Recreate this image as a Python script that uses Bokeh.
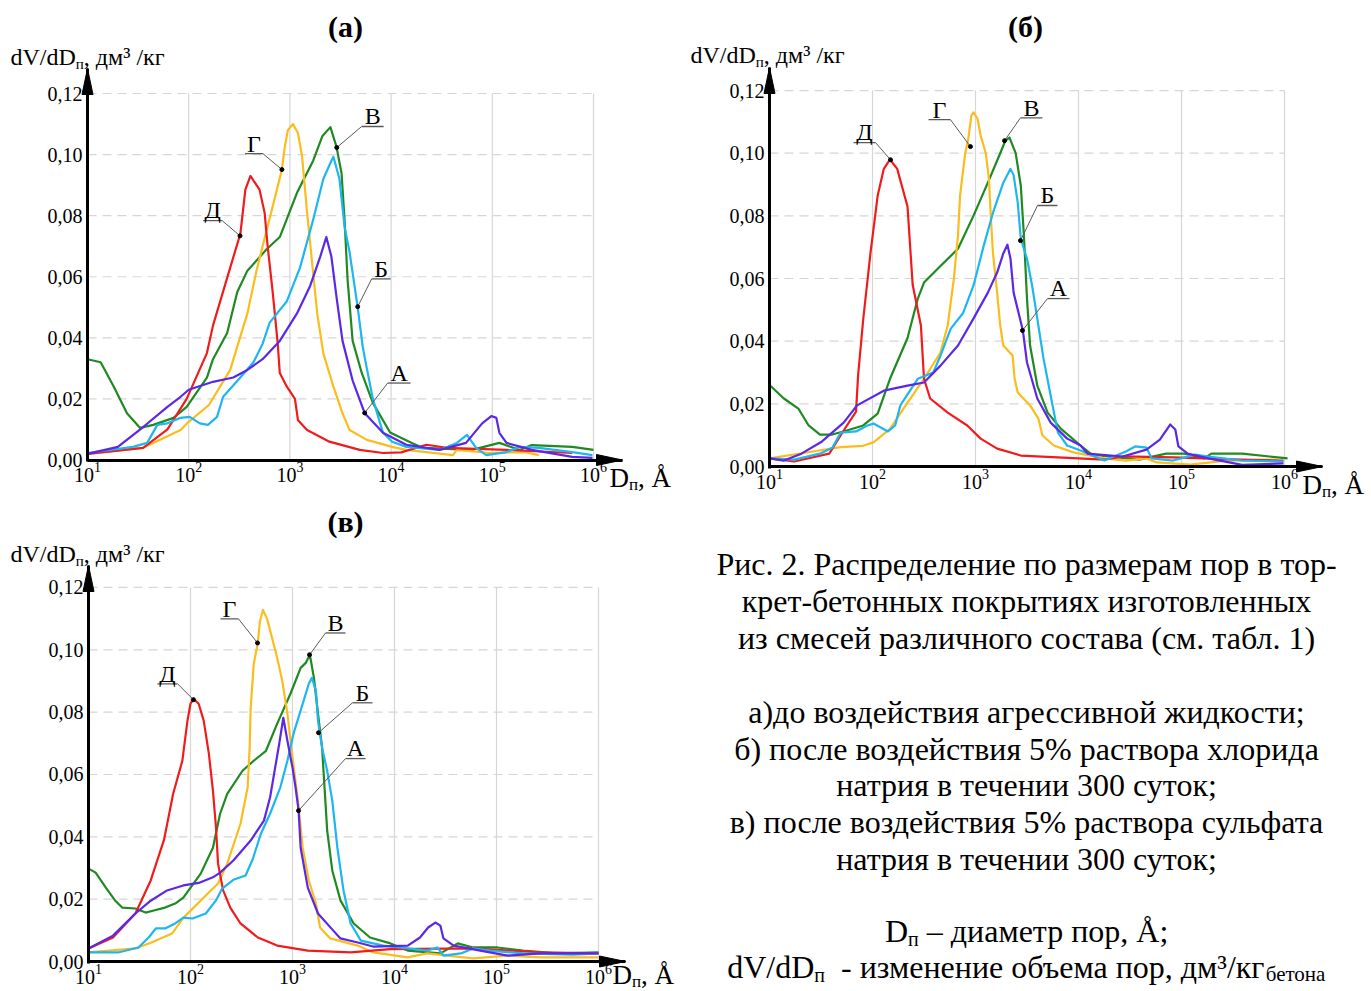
import numpy as np
from bokeh.plotting import figure
from bokeh.models import Range1d, FixedTicker, CustomJSTickFormatter, LogTickFormatter, Label
from bokeh.layouts import row, column
from bokeh.core.properties import value
from bokeh.embed import file_html
from bokeh.resources import INLINE

SERIF = "Liberation Serif"
NB = "\u00a0"

X_TICKS = [1e1, 1e2, 1e3, 1e4, 1e5, 1e6]
Y_TICKS = [0.0, 0.02, 0.04, 0.06, 0.08, 0.10, 0.12]
COLORS = {"А": "#5a28e6", "Б": "#1eb6f0", "В": "#1f8a22", "Г": "#fbbd1e", "Д": "#f01c1c"}

# ---------------- panel (а) ----------------
a_logD_A = [1.0, 1.30, 1.55, 1.79, 1.92, 2.0, 2.24, 2.44, 2.58, 2.73, 2.90, 3.07, 3.20, 3.30, 3.36, 3.41, 3.46, 3.52, 3.62, 3.74, 3.92, 4.15, 4.48, 4.74, 4.90, 4.99, 5.04, 5.07, 5.14, 5.39, 5.79, 5.99]
a_dv_A = [0.002, 0.0043, 0.0108, 0.0174, 0.0207, 0.023, 0.0256, 0.027, 0.0295, 0.033, 0.039, 0.048, 0.057, 0.0666, 0.073, 0.0666, 0.0535, 0.039, 0.026, 0.0153, 0.0089, 0.005, 0.0033, 0.0056, 0.012, 0.0144, 0.0138, 0.0089, 0.0056, 0.0033, 0.001, 0.0007]
a_logD_B = [1.0, 1.45, 1.59, 1.69, 1.79, 1.92, 2.01, 2.11, 2.19, 2.28, 2.34, 2.51, 2.64, 2.73, 2.80, 2.97, 3.10, 3.23, 3.33, 3.41, 3.43, 3.49, 3.54, 3.59, 3.67, 3.72, 3.76, 3.82, 3.92, 4.01, 4.15, 4.48, 4.65, 4.75, 4.84, 4.94, 5.14, 5.27, 5.46, 5.79, 5.99]
a_dv_B = [0.0023, 0.0043, 0.0056, 0.0115, 0.012, 0.0138, 0.0141, 0.012, 0.0115, 0.0141, 0.0207, 0.027, 0.032, 0.038, 0.045, 0.052, 0.063, 0.0787, 0.092, 0.098, 0.0993, 0.092, 0.0764, 0.068, 0.050, 0.037, 0.030, 0.020, 0.0089, 0.006, 0.0043, 0.0033, 0.0056, 0.0082, 0.004, 0.0016, 0.0026, 0.0043, 0.004, 0.0026, 0.0016]
a_logD_V = [1.0, 1.13, 1.26, 1.39, 1.52, 1.65, 1.85, 1.98, 2.18, 2.24, 2.38, 2.48, 2.58, 2.77, 2.90, 3.07, 3.23, 3.32, 3.40, 3.46, 3.51, 3.54, 3.57, 3.62, 3.71, 3.82, 3.99, 4.21, 4.31, 4.80, 5.07, 5.27, 5.39, 5.79, 6.0]
a_dv_V = [0.033, 0.032, 0.024, 0.0153, 0.0105, 0.0115, 0.0138, 0.0174, 0.027, 0.033, 0.0416, 0.055, 0.062, 0.069, 0.073, 0.0875, 0.098, 0.106, 0.109, 0.1026, 0.094, 0.0787, 0.059, 0.039, 0.0285, 0.0187, 0.009, 0.0055, 0.004, 0.0033, 0.0056, 0.0033, 0.0049, 0.0043, 0.0033]
a_logD_G = [1.0, 1.55, 1.92, 2.0, 2.2, 2.41, 2.58, 2.67, 2.73, 2.83, 2.92, 2.95, 2.98, 3.03, 3.08, 3.12, 3.17, 3.22, 3.27, 3.33, 3.43, 3.52, 3.59, 3.76, 4.01, 4.15, 4.61, 4.65, 4.97, 5.33, 5.46]
a_dv_G = [0.002, 0.004, 0.0098, 0.0125, 0.018, 0.0295, 0.048, 0.062, 0.070, 0.083, 0.095, 0.1026, 0.108, 0.110, 0.107, 0.0995, 0.081, 0.0645, 0.048, 0.035, 0.024, 0.0153, 0.0098, 0.0066, 0.0043, 0.0033, 0.0016, 0.0033, 0.0023, 0.0026, 0.0016]
a_logD_D = [1.0, 1.55, 1.79, 1.98, 2.18, 2.24, 2.41, 2.51, 2.56, 2.61, 2.70, 2.75, 2.78, 2.83, 2.88, 2.90, 2.97, 3.05, 3.08, 3.17, 3.39, 3.69, 3.92, 4.10, 4.35, 4.55, 5.14, 5.79]
a_dv_D = [0.002, 0.004, 0.010, 0.020, 0.035, 0.044, 0.063, 0.074, 0.0885, 0.093, 0.0885, 0.081, 0.070, 0.055, 0.038, 0.0285, 0.024, 0.020, 0.013, 0.0098, 0.006, 0.0033, 0.0023, 0.0025, 0.005, 0.004, 0.0033, 0.0023]

# ---------------- panel (б) ----------------
b_logD_A = [1.0, 1.14, 1.31, 1.51, 1.72, 1.85, 2.11, 2.34, 2.50, 2.66, 2.83, 2.98, 3.12, 3.21, 3.27, 3.31, 3.34, 3.37, 3.46, 3.50, 3.60, 3.73, 3.89, 4.02, 4.09, 4.43, 4.66, 4.79, 4.89, 4.94, 4.97, 5.06, 5.26, 5.59, 5.99]
b_dv_A = [0.0026, 0.0019, 0.0041, 0.008, 0.014, 0.0195, 0.0242, 0.0258, 0.0268, 0.0322, 0.0386, 0.0472, 0.0555, 0.0619, 0.068, 0.0708, 0.0663, 0.0555, 0.0434, 0.0332, 0.0217, 0.014, 0.0089, 0.0067, 0.0041, 0.0032, 0.0054, 0.0086, 0.0134, 0.0118, 0.0064, 0.0041, 0.0026, 0.0005, 0.001]
b_logD_B = [1.0, 1.24, 1.49, 1.61, 1.69, 1.84, 1.95, 2.01, 2.15, 2.22, 2.27, 2.38, 2.44, 2.59, 2.66, 2.76, 2.88, 2.98, 3.08, 3.17, 3.27, 3.34, 3.37, 3.41, 3.44, 3.50, 3.55, 3.60, 3.66, 3.73, 3.80, 3.89, 4.02, 4.25, 4.46, 4.55, 4.66, 4.71, 4.92, 5.13, 5.26, 5.59, 5.99]
b_dv_B = [0.0026, 0.0022, 0.0041, 0.006, 0.0108, 0.0112, 0.0131, 0.0137, 0.0112, 0.0131, 0.0195, 0.025, 0.028, 0.030, 0.0354, 0.044, 0.049, 0.0577, 0.0705, 0.081, 0.0906, 0.095, 0.093, 0.0842, 0.0727, 0.0663, 0.0577, 0.0472, 0.0345, 0.0226, 0.0108, 0.0067, 0.0051, 0.0019, 0.0048, 0.0064, 0.006, 0.0026, 0.0019, 0.0038, 0.0032, 0.0019, 0.0016]
b_logD_V = [1.0, 1.14, 1.28, 1.38, 1.49, 1.61, 1.75, 1.91, 2.05, 2.17, 2.34, 2.44, 2.50, 2.66, 2.83, 2.98, 3.12, 3.24, 3.29, 3.33, 3.39, 3.44, 3.47, 3.50, 3.53, 3.60, 3.70, 3.83, 4.02, 4.13, 4.59, 4.85, 5.03, 5.22, 5.29, 5.59, 6.03]
b_dv_V = [0.026, 0.0217, 0.0185, 0.0131, 0.0102, 0.0102, 0.0115, 0.0131, 0.0169, 0.028, 0.041, 0.0536, 0.0587, 0.064, 0.0695, 0.080, 0.0906, 0.100, 0.104, 0.105, 0.100, 0.0896, 0.0737, 0.0536, 0.0386, 0.0258, 0.0172, 0.012, 0.0067, 0.0038, 0.0022, 0.0041, 0.0041, 0.0026, 0.0041, 0.0041, 0.0026]
b_logD_G = [1.0, 1.42, 1.69, 1.91, 2.01, 2.17, 2.34, 2.50, 2.66, 2.73, 2.79, 2.83, 2.85, 2.90, 2.93, 2.96, 2.98, 3.02, 3.05, 3.10, 3.13, 3.15, 3.17, 3.21, 3.24, 3.27, 3.36, 3.38, 3.41, 3.53, 3.61, 3.65, 3.76, 3.95, 4.25, 4.46, 4.66, 4.76, 5.09, 5.43, 5.93]
b_dv_G = [0.0026, 0.0048, 0.0062, 0.0066, 0.0077, 0.012, 0.0204, 0.028, 0.0364, 0.045, 0.060, 0.0737, 0.0864, 0.100, 0.1046, 0.112, 0.113, 0.111, 0.1056, 0.100, 0.092, 0.079, 0.068, 0.0555, 0.045, 0.0386, 0.0354, 0.028, 0.0236, 0.0195, 0.0153, 0.0099, 0.0067, 0.0045, 0.0026, 0.0019, 0.0026, 0.0013, 0.0006, 0.0019, 0.0022]
b_logD_D = [1.0, 1.24, 1.58, 1.69, 1.75, 1.84, 1.86, 1.91, 1.98, 2.05, 2.11, 2.17, 2.24, 2.34, 2.37, 2.39, 2.47, 2.50, 2.56, 2.73, 2.92, 3.05, 3.21, 3.44, 3.80, 4.25, 4.43, 4.92, 5.59, 5.99]
b_dv_D = [0.0026, 0.0016, 0.0041, 0.0099, 0.013, 0.0175, 0.029, 0.047, 0.068, 0.0864, 0.095, 0.098, 0.095, 0.083, 0.068, 0.058, 0.045, 0.028, 0.0217, 0.0172, 0.0131, 0.0089, 0.0057, 0.0035, 0.0029, 0.0022, 0.0032, 0.0029, 0.0022, 0.0019]

# ---------------- panel (в) ----------------
c_logD_A = [1.0, 1.24, 1.46, 1.61, 1.77, 1.93, 2.08, 2.22, 2.29, 2.42, 2.59, 2.72, 2.78, 2.83, 2.87, 2.91, 2.95, 3.0, 3.03, 3.06, 3.08, 3.15, 3.25, 3.40, 3.47, 3.64, 3.79, 4.13, 4.25, 4.33, 4.40, 4.45, 4.48, 4.58, 4.84, 5.11, 5.43, 6.0]
c_dv_A = [0.0042, 0.0083, 0.0154, 0.0195, 0.0228, 0.0244, 0.0252, 0.027, 0.0285, 0.0324, 0.0388, 0.0452, 0.0526, 0.0622, 0.0699, 0.0782, 0.0708, 0.0622, 0.0558, 0.0484, 0.0365, 0.0237, 0.0154, 0.0099, 0.0074, 0.0061, 0.0048, 0.0051, 0.0077, 0.0109, 0.0125, 0.0115, 0.0074, 0.0051, 0.0035, 0.0019, 0.0026, 0.0026]
c_logD_B = [1.0, 1.29, 1.49, 1.59, 1.66, 1.75, 1.85, 1.93, 2.02, 2.15, 2.25, 2.31, 2.42, 2.54, 2.61, 2.69, 2.78, 2.88, 2.95, 3.01, 3.10, 3.16, 3.19, 3.23, 3.25, 3.29, 3.34, 3.39, 3.44, 3.50, 3.57, 3.67, 3.89, 4.13, 4.32, 4.42, 4.48, 4.65, 4.77, 4.94, 5.26, 5.75, 6.0]
c_dv_B = [0.0029, 0.0029, 0.0045, 0.0077, 0.0106, 0.0106, 0.0122, 0.0141, 0.0138, 0.0154, 0.0196, 0.0234, 0.0262, 0.0276, 0.0328, 0.041, 0.0474, 0.0558, 0.0644, 0.0731, 0.0827, 0.0891, 0.091, 0.0869, 0.0772, 0.0686, 0.0612, 0.0516, 0.0365, 0.0228, 0.0122, 0.0067, 0.0051, 0.0042, 0.0035, 0.0045, 0.0019, 0.0026, 0.0042, 0.0035, 0.0026, 0.0022, 0.0026]
c_logD_V = [1.0, 1.07, 1.17, 1.26, 1.33, 1.46, 1.56, 1.63, 1.75, 1.85, 1.93, 2.10, 2.22, 2.29, 2.36, 2.51, 2.62, 2.74, 2.85, 2.98, 3.08, 3.13, 3.17, 3.21, 3.25, 3.29, 3.31, 3.34, 3.39, 3.47, 3.60, 3.76, 3.96, 4.13, 4.45, 4.62, 4.77, 5.01, 5.26, 5.60, 6.0]
c_dv_V = [0.0298, 0.0285, 0.0237, 0.0196, 0.0173, 0.017, 0.0157, 0.0163, 0.0173, 0.0186, 0.0205, 0.0282, 0.0365, 0.0474, 0.0538, 0.0612, 0.0644, 0.0676, 0.0763, 0.0859, 0.0942, 0.0958, 0.0984, 0.091, 0.0795, 0.0686, 0.058, 0.042, 0.0292, 0.0196, 0.0122, 0.0077, 0.0058, 0.0035, 0.0026, 0.0058, 0.0045, 0.0045, 0.0035, 0.0026, 0.0029]
c_logD_G = [1.0, 1.46, 1.61, 1.82, 1.93, 2.17, 2.27, 2.36, 2.49, 2.56, 2.58, 2.59, 2.62, 2.66, 2.68, 2.71, 2.75, 2.80, 2.85, 2.90, 2.95, 3.0, 3.05, 3.10, 3.16, 3.23, 3.27, 3.37, 3.64, 3.79, 4.13, 4.32, 4.52, 4.77, 5.11, 5.43, 6.0]
c_dv_G = [0.0029, 0.0042, 0.006, 0.009, 0.014, 0.0218, 0.025, 0.0314, 0.0442, 0.0558, 0.0686, 0.0814, 0.0955, 0.1022, 0.109, 0.1128, 0.110, 0.1038, 0.0974, 0.090, 0.0795, 0.0654, 0.0526, 0.0365, 0.026, 0.0186, 0.0109, 0.0074, 0.0051, 0.0029, 0.0013, 0.0026, 0.0019, 0.001, 0.0019, 0.0013, 0.0013]
c_logD_D = [1.0, 1.24, 1.46, 1.61, 1.74, 1.83, 1.92, 1.97, 2.0, 2.03, 2.08, 2.13, 2.18, 2.22, 2.25, 2.27, 2.32, 2.39, 2.49, 2.66, 2.85, 3.15, 3.57, 3.96, 4.77, 5.43, 6.0]
c_dv_D = [0.0042, 0.0077, 0.0154, 0.026, 0.039, 0.0538, 0.0644, 0.0772, 0.0827, 0.0843, 0.0827, 0.0772, 0.0667, 0.0548, 0.043, 0.0314, 0.0228, 0.0173, 0.0122, 0.0077, 0.0051, 0.0035, 0.0029, 0.004, 0.0042, 0.0029, 0.0026]

# callouts: letter, anchor logD, anchor dV, underline logD start/end, underline dV
a_callouts = [("Д", 2.507, 0.0734, 2.143, 2.330, 0.0784),
              ("Г", 2.921, 0.0951, 2.557, 2.734, 0.1003),
              ("В", 3.463, 0.1023, 3.709, 3.926, 0.1092),
              ("Б", 3.670, 0.0502, 3.808, 3.995, 0.0593),
              ("А", 3.739, 0.0154, 3.966, 4.192, 0.0252)]
b_callouts = [("Д", 2.175, 0.0979, 1.816, 2.029, 0.1034),
              ("Г", 2.951, 0.1021, 2.544, 2.757, 0.1107),
              ("В", 3.282, 0.1040, 3.437, 3.650, 0.1113),
              ("Б", 3.437, 0.0721, 3.602, 3.796, 0.0833),
              ("А", 3.456, 0.0434, 3.699, 3.913, 0.0536)]
c_callouts = [("Д", 2.029, 0.0840, 1.676, 1.873, 0.0891),
              ("Г", 2.657, 0.1022, 2.294, 2.471, 0.1099),
              ("В", 3.167, 0.0984, 3.324, 3.520, 0.1054),
              ("Б", 3.255, 0.0734, 3.588, 3.784, 0.0830),
              ("А", 3.059, 0.0484, 3.520, 3.716, 0.0651)]

caption_lines = ["Рис. 2. Распределение по размерам пор в тор-",
                 "крет-бетонных покрытиях изготовленных",
                 "из смесей различного состава (см. табл. 1)",
                 "а)до воздействия агрессивной жидкости;",
                 "б) после воздействия 5% раствора хлорида",
                 "натрия в течении 300 суток;",
                 "в) после воздействия 5% раствора сульфата",
                 "натрия в течении 300 суток;"]
caption_y = [563, 600, 637, 711, 748, 784, 821, 858]

# ---------------- geometry (page pixels; page has no margin) ----------------
GEOM = {
    "a": dict(x0=87, dpx=101.2, y0=459.5, vpx=3054, xtip=622, ytip=68, left=0, top=0, width=680, height=502),
    "b": dict(x0=769, dpx=103.0, y0=466, vpx=3133, xtip=1322, ytip=67, left=680, top=0, width=690, height=502),
    "c": dict(x0=88, dpx=102.0, y0=961, vpx=3117, xtip=625, ytip=565, left=0, top=502, width=1370, height=488),
}

GRID = "#d6d6d6"
LEAD = "#5a5a5a"
MID = 0.3375  # distance from alphabetic baseline to em-box middle, in em

W = {' ': .25, NB: .25, ',': .25, '.': .25, ';': .278, '-': .333, '–': .5, '/': .278, '³': .3, 'Å': .722,
     'D': .722, 'd': .5, 'V': .722, 'а': .444, 'б': .5, 'в': .472, 'г': .41, 'д': .51, 'е': .444, 'з': .395,
     'и': .535, 'к': .486, 'м': .633, 'н': .535, 'о': .5, 'п': .535, 'р': .5, 'т': .437, 'ъ': .517}


def tw(s, size):
    return sum(W.get(ch, 0.5) for ch in s) * size


def add_text(p, g, X, Ymid, text, size, align="left", bold=False):
    p.add_layout(Label(x=X - g["left"], y=g["top"] + g["height"] - Ymid, x_units="screen", y_units="screen",
                       text=text, text_font=SERIF, text_font_size=f"{size}px", text_align=align,
                       text_baseline="middle", text_font_style="bold" if bold else "normal",
                       text_color="black"))


def add_pieces(p, g, X, Ybase, pieces, center=False):
    total = sum(tw(t, s) for t, s, dy in pieces)
    x = X - total / 2 if center else X
    for t, s, dy in pieces:
        add_text(p, g, x, Ybase + dy - MID * s, t, s)
        x += tw(t, s)


def make_panel(g, series, callouts, title, title_xy, ylab_xy, xlab_xy):
    def Lx(X):
        return 1 + (X - g["x0"]) / g["dpx"]

    def Vy(Y):
        return (g["y0"] - Y) / g["vpx"]

    xr = Range1d(10 ** Lx(g["left"]), 10 ** Lx(g["left"] + g["width"]))
    yr = Range1d(Vy(g["top"] + g["height"]), Vy(g["top"]))
    p = figure(width=g["width"], height=g["height"], x_axis_type="log", x_range=xr, y_range=yr,
               output_backend="svg", toolbar_location=None, title=None,
               min_border_left=0, min_border_right=0, min_border_top=0, min_border_bottom=0)
    p.outline_line_color = None
    p.xgrid.visible = False
    p.ygrid.visible = False
    p.xaxis.fixed_location = 0.0
    p.yaxis.fixed_location = 10.0
    p.xaxis.bounds = (10 ** 0.9995, 10 ** Lx(g["xtip"]))
    p.yaxis.bounds = (Vy(g["y0"] + 1.5), Vy(g["ytip"]))
    p.xaxis.ticker = FixedTicker(ticks=X_TICKS)
    p.xaxis.formatter = LogTickFormatter()
    p.yaxis.ticker = FixedTicker(ticks=Y_TICKS)
    p.yaxis.formatter = CustomJSTickFormatter(code="return tick.toFixed(2).replace('.', ',');")
    for ax in (p.xaxis[0], p.yaxis[0]):
        ax.axis_line_width = 3
        ax.axis_line_color = "black"
        ax.major_tick_line_color = None
        ax.minor_tick_line_color = None
        ax.major_tick_out = 0
        ax.major_tick_in = 0
        ax.minor_tick_out = 0
        ax.major_label_text_font = SERIF
        ax.major_label_text_font_size = "20px"
        ax.major_label_text_color = "black"
    p.xaxis.major_label_standoff = 2
    p.yaxis.major_label_standoff = 5

    # grid limited to the tick extent
    gx = X_TICKS[1:]
    p.segment(x0=gx, y0=[Y_TICKS[0]] * len(gx), x1=gx, y1=[Y_TICKS[-1]] * len(gx),
              line_color=GRID, line_width=1.2, level="underlay")
    gy = Y_TICKS[1:]
    p.segment(x0=[X_TICKS[0]] * len(gy), y0=gy, x1=[X_TICKS[-1]] * len(gy), y1=gy,
              line_color=GRID, line_width=1.2, line_dash="9 6", level="underlay")

    # curves
    for key in ["В", "Г", "Д", "Б", "А"]:
        L, V = series[key]
        p.line(np.power(10.0, L), V, line_color=COLORS[key], line_width=2.2, line_join="round")

    # callouts
    for letter, La, Va, Lu0, Lu1, Vu in callouts:
        near = Lu0 if abs(Lu0 - La) < abs(Lu1 - La) else Lu1
        p.line([10 ** La, 10 ** near], [Va, Vu], line_color=LEAD, line_width=1)
        p.line([10 ** Lu0, 10 ** Lu1], [Vu, Vu], line_color=LEAD, line_width=1.3)
        p.scatter([10 ** La], [Va], size=4, color="black")
        p.text(x=[10 ** ((Lu0 + Lu1) / 2)], y=[Vu + (2 + MID * 24) / g["vpx"]], text=[letter],
               text_font=value(SERIF), text_font_size="24px", text_align="center",
               text_baseline="middle", text_color="black")

    # arrow heads
    Ltip = Lx(g["xtip"])
    Vtip = Vy(g["ytip"])
    hl, hw = 26, 5.5
    p.patch([10.0, 10 ** (1 - hw / g["dpx"]), 10 ** (1 + hw / g["dpx"])],
            [Vtip, Vtip - hl / g["vpx"], Vtip - hl / g["vpx"]], color="black", level="overlay")
    p.patch([10 ** Ltip, 10 ** (Ltip - hl / g["dpx"]), 10 ** (Ltip - hl / g["dpx"])],
            [0.0, hw / g["vpx"], -hw / g["vpx"]], color="black", level="overlay")

    # texts
    add_text(p, g, title_xy[0], title_xy[1], title, 30, align="center", bold=True)
    add_pieces(p, g, ylab_xy[0], ylab_xy[1], [("dV/dD", 24, 0), ("п", 15, 4), (", дм³" + NB + "/кг", 24, 0)])
    add_pieces(p, g, xlab_xy[0], xlab_xy[1], [("D", 27, 0), ("п", 17, 3), (", Å", 27, 0)])
    return p


pa = make_panel(GEOM["a"], {"А": (a_logD_A, a_dv_A), "Б": (a_logD_B, a_dv_B), "В": (a_logD_V, a_dv_V),
                            "Г": (a_logD_G, a_dv_G), "Д": (a_logD_D, a_dv_D)}, a_callouts,
                "(а)", (345, 26), (10, 65), (609, 487))
pb = make_panel(GEOM["b"], {"А": (b_logD_A, b_dv_A), "Б": (b_logD_B, b_dv_B), "В": (b_logD_V, b_dv_V),
                            "Г": (b_logD_G, b_dv_G), "Д": (b_logD_D, b_dv_D)}, b_callouts,
                "(б)", (1025, 26), (690, 63), (1302, 494))
pc = make_panel(GEOM["c"], {"А": (c_logD_A, c_dv_A), "Б": (c_logD_B, c_dv_B), "В": (c_logD_V, c_dv_V),
                            "Г": (c_logD_G, c_dv_G), "Д": (c_logD_D, c_dv_D)}, c_callouts,
                "(в)", (345, 521), (10, 562), (612, 984))

# caption (drawn in the bottom figure, right of its plot area)
gc = GEOM["c"]
CAP_X = 1026
for txt, yc in zip(caption_lines, caption_y):
    add_text(pc, gc, CAP_X, yc, txt, 32, align="center")
add_pieces(pc, gc, CAP_X, 941, [("D", 32, 0), ("п", 20, 4), (NB + "–" + NB + "диаметр пор, Å;", 32, 0)],
           center=True)
add_pieces(pc, gc, CAP_X, 977, [("dV/dD", 32, 0), ("п", 20, 4),
                                (NB + NB + "-" + NB + "изменение объема пор, дм³/кг", 32, 0),
                                ("бетона", 21, 4)], center=True)

layout = column(row(pa, pb), pc)
open("out.html", "w").write(file_html(layout, INLINE))
